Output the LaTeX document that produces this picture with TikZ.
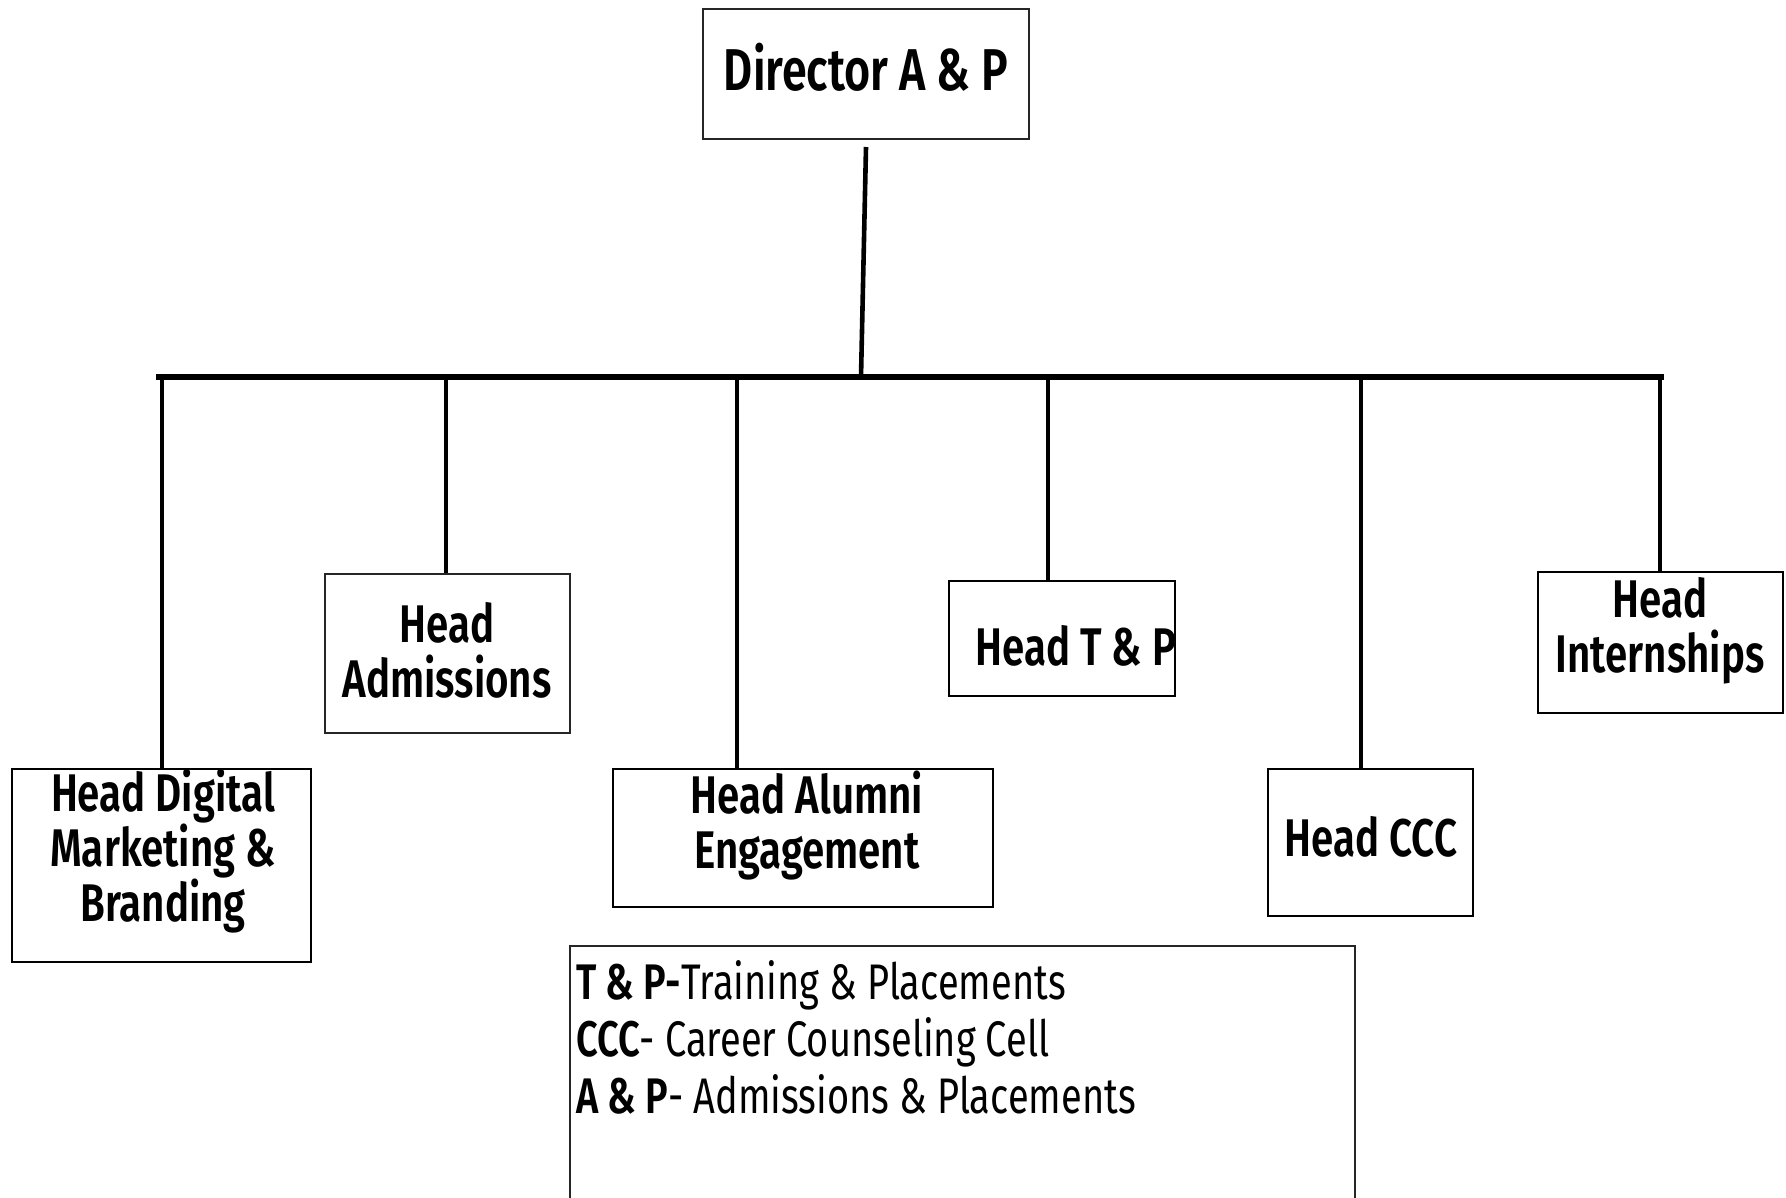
\documentclass[tikz,border=0pt]{standalone}
\usepackage{fontspec}
\setmainfont{Fira Sans}[FakeStretch=0.76, BoldFont={Fira Sans SemiBold}]
\begin{document}
\begin{tikzpicture}[x=1pt,y=-1pt,
  box/.style={draw=black, line width=2.8pt, fill=white, inner sep=0pt},
  thinbox/.style={draw=black!85, line width=2pt, fill=white, inner sep=0pt},
  lbl/.style={font=\fontsize{53}{55}\selectfont\bfseries, align=center, inner sep=0pt},
  drop/.style={line width=4.6pt},
  conn/.style={line width=5.2pt, line cap=rect}
]
\useasboundingbox[fill=white] (0,0) rectangle (1786,1198);

% boxes
\node[thinbox, minimum width=326pt, minimum height=130pt] (dir) at (866,74) {};
\node[box, minimum width=299pt, minimum height=193pt] (dig) at (161.5,865.5) {};
\node[thinbox, minimum width=245pt, minimum height=159pt] (adm) at (447.5,653.5) {};
\node[box, minimum width=380pt, minimum height=138pt] (alu) at (803,838) {};
\node[box, minimum width=226pt, minimum height=115pt] (tp) at (1062,638.5) {};
\node[box, minimum width=205pt, minimum height=147pt] (ccc) at (1370.5,842.5) {};
\node[box, minimum width=245pt, minimum height=141pt] (int) at (1660.5,642.5) {};

% labels
\node[lbl, font=\fontsize{59}{62}\selectfont\bfseries] (dirt) at (866,67) {Director A \& P};
\node[lbl] (digt) at (163,851) {Head Digital\\Marketing \&\\Branding};
\node[lbl] (admt) at (447,650) {Head\\Admissions};
\node[lbl] (alut) at (807,826) {Head Alumni\\Engagement};
\node[lbl] (tpt) at (1076,646) {Head T \& P};
\node[lbl] (ccct) at (1371,837) {Head CCC};
\node[lbl] (intt) at (1660,631) {Head\\Internships};

% legend
\draw[thinbox] (570,946) rectangle (1355,1215);
\node[anchor=north west, align=left, inner sep=0pt,
      font=\fontsize{50}{57}\selectfont] (leg) at (576,960)
  {\textbf{T \& P-}Training \& Placements\\
   \textbf{CCC}- Career Counseling Cell\\
   \textbf{A \& P}- Admissions \& Placements};

% connectors
\coordinate (j) at (861,377);
\coordinate (bl) at (159,377);
\coordinate (br) at (1661,377);
\coordinate (b1) at (162,377);
\coordinate (b2) at (446,377);
\coordinate (b3) at (737,377);
\coordinate (b4) at (1048,377);
\coordinate (b5) at (1361,377);
\coordinate (b6) at (1660,377);
\draw[drop] ([yshift=-7pt]dir.south) -- (j);
\draw[conn] (bl) -- (br);
\draw[drop] (b1) -- (b1 |- dig.north);
\draw[drop] (b2) -- (b2 |- adm.north);
\draw[drop] (b3) -- (b3 |- alu.north);
\draw[drop] (b4) -- (b4 |- tp.north);
\draw[drop] (b5) -- (b5 |- ccc.north);
\draw[drop] (b6) -- (b6 |- int.north);
\end{tikzpicture}
\end{document}
